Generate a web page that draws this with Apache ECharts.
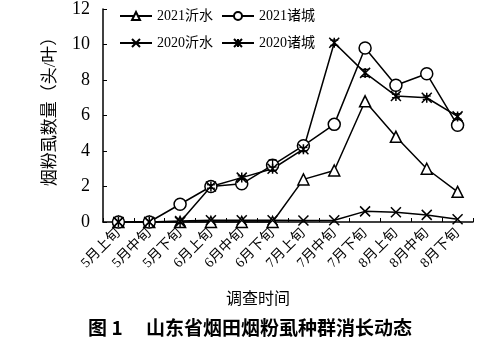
<!DOCTYPE html>
<html>
<head>
<meta charset="utf-8">
<script src="https://cdn.jsdelivr.net/npm/echarts@6/dist/echarts.min.js"></script>
<style>
  html, body { margin: 0; padding: 0; background: #fff; }
  #chart { width: 500px; height: 350px; }
</style>
</head>
<body>
<div id="chart"></div>
<script>
// Survey periods (ten-day intervals, May–August)
const categories = ['5月上旬','5月中旬','5月下旬','6月上旬','6月中旬','6月下旬','7月上旬','7月中旬','7月下旬','8月上旬','8月中旬','8月下旬'];

// Whitefly counts per leaf
const yishui2021   = [0, 0, 0, 0, 0, 0, 2.4, 2.9, 6.8, 4.8, 3.0, 1.7];
const zhucheng2021 = [0, 0, 1.0, 2.0, 2.15, 3.2, 4.3, 5.5, 9.8, 7.7, 8.35, 5.45];
const yishui2020   = [0, 0, 0.05, 0.1, 0.1, 0.1, 0.08, 0.1, 0.6, 0.55, 0.4, 0.15];
const zhucheng2020 = [0, 0, 0, 2.0, 2.5, 3.0, 4.1, 10.1, 8.4, 7.1, 7.0, 5.95];

// Standard errors (only the visible ones)
const zhucheng2021Err = [0, 0, 0, 0, 0, 0.3, 0, 0, 0, 0, 0, 0];
const zhucheng2020Err = [0, 0, 0, 0.1, 0.1, 0.1, 0.1, 0.15, 0.2, 0.1, 0.1, 0.15];

const yTicks = [0, 2, 4, 6, 8, 10, 12];

const serif = '"Liberation Serif", "Times New Roman", "Noto Sans CJK SC", serif';
const cjk = '"Liberation Serif", "Noto Sans CJK SC", serif';

const crossPath = 'path://M0,0L10,10M10,0L0,10';
const starPath = 'path://M0,0L10,10M10,0L0,10M5,0L5,10';

function lineSeries(name, data, symbol, size) {
  return {
    name: name,
    type: 'line',
    data: data,
    symbol: symbol,
    symbolSize: size,
    showAllSymbol: true,
    lineStyle: { color: '#000', width: 1.5 },
    itemStyle: { color: '#fff', borderColor: '#000', borderWidth: 1.5 },
    emphasis: { disabled: true },
    z: 3
  };
}

function errorSeries(values, errs) {
  const data = values.map((v, i) => [i, v, errs[i]]).filter(d => d[2] > 0);
  return {
    type: 'custom',
    silent: true,
    z: 4,
    data: data,
    renderItem: function (params, api) {
      const x = api.value(0), v = api.value(1), e = api.value(2);
      const top = api.coord([x, v + e]);
      const bot = api.coord([x, v - e]);
      const hw = 4;
      const style = { stroke: '#000', lineWidth: 1.3 };
      return {
        type: 'group',
        children: [
          { type: 'line', shape: { x1: top[0], y1: top[1], x2: bot[0], y2: bot[1] }, style: style },
          { type: 'line', shape: { x1: top[0] - hw, y1: top[1], x2: top[0] + hw, y2: top[1] }, style: style },
          { type: 'line', shape: { x1: bot[0] - hw, y1: bot[1], x2: bot[0] + hw, y2: bot[1] }, style: style }
        ]
      };
    }
  };
}

const chart = echarts.init(document.getElementById('chart'), null, { renderer: 'canvas' });

const legendText = { fontFamily: cjk, fontSize: 14, color: '#000' };

chart.setOption({
  animation: false,
  backgroundColor: '#fff',
  grid: { left: 103, right: 27, top: 5, bottom: 128, containLabel: false },
  legend: [
    {
      data: ['2021沂水', '2021诸城'],
      left: 114, top: 4,
      itemWidth: 32, itemHeight: 10, itemGap: 8,
      textStyle: legendText
    },
    {
      data: ['2020沂水', '2020诸城'],
      left: 114, top: 31,
      itemWidth: 32, itemHeight: 10, itemGap: 8,
      textStyle: legendText
    }
  ],
  xAxis: {
    type: 'category',
    data: categories,
    boundaryGap: true,
    name: '调查时间',
    nameLocation: 'middle',
    nameGap: 70,
    nameTextStyle: { fontFamily: cjk, fontSize: 16, color: '#000', padding: [0, 60, 0, 0] },
    axisLine: { lineStyle: { color: '#000', width: 1.5 } },
    axisTick: { show: true, inside: true, length: 4, alignWithLabel: false, lineStyle: { color: '#000' } },
    axisLabel: {
      interval: 0, rotate: 45, fontFamily: cjk, fontSize: 14, color: '#000', margin: 9
    },
    splitLine: { show: false }
  },
  yAxis: {
    type: 'value',
    min: 0, max: 12, interval: 2,
    name: '烟粉虱数量（头/叶）',
    nameLocation: 'middle',
    nameGap: 44,
    nameRotate: 90,
    nameTextStyle: { fontFamily: cjk, fontSize: 17, color: '#000', padding: [0, 0, 0, 16] },
    axisLine: { show: true, lineStyle: { color: '#000', width: 1.5 } },
    axisTick: { show: true, inside: true, length: 4, lineStyle: { color: '#000' } },
    axisLabel: {
      fontFamily: serif, fontSize: 18, color: '#000', margin: 13,
      formatter: v => yTicks.includes(v) ? String(v) : ''
    },
    splitLine: { show: false }
  },
  title: {
    text: '图 1　 山东省烟田烟粉虱种群消长动态',
    left: 'center', bottom: 8,
    textStyle: { fontFamily: '"Noto Sans CJK SC", sans-serif', fontSize: 19, fontWeight: 'bold', color: '#000' }
  },
  series: [
    lineSeries('2021沂水', yishui2021, 'triangle', 11),
    lineSeries('2021诸城', zhucheng2021, 'circle', 12),
    lineSeries('2020沂水', yishui2020, crossPath, 10),
    lineSeries('2020诸城', zhucheng2020, starPath, 10),
    errorSeries(zhucheng2021, zhucheng2021Err),
    errorSeries(zhucheng2020, zhucheng2020Err)
  ]
});
</script>
</body>
</html>
